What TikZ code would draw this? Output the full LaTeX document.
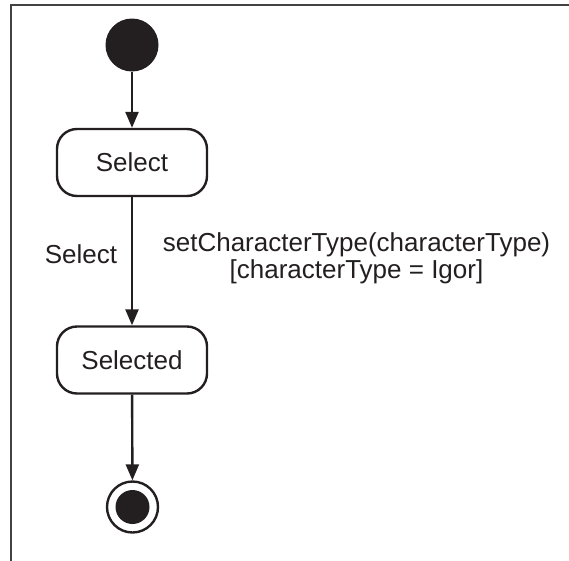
\documentclass[tikz,border=0pt]{standalone}
\usepackage{fontspec}
\setmainfont{Liberation Sans}
\usetikzlibrary{arrows.meta}
\definecolor{ink}{HTML}{231F20}
\tikzset{
  statebox/.style={draw=ink, line width=2.4pt, rounded corners=20pt, minimum width=150pt, minimum height=67pt, font=\fontsize{26}{30}\selectfont, text=ink},
  conn/.style={draw=ink, line width=2.4pt, -{Triangle[length=16pt,width=13pt]}},
  lbl/.style={font=\fontsize{26}{30}\selectfont, text=ink, anchor=base, inner sep=0pt}
}
\begin{document}
\begin{tikzpicture}[x=1pt,y=-1pt]
\useasboundingbox (0,0) rectangle (569,560);
\draw[line width=2pt, draw=ink!85] (11,570) -- (11,5) -- (580,5);
\node[circle, fill=ink, minimum size=53pt, inner sep=0pt] (init) at (132,45) {};
\node[statebox] (sel) at (132,162.5) {Select};
\node[statebox] (sed) at (132,360) {Selected};
\node[circle, draw=ink, line width=2.4pt, minimum size=51pt, inner sep=0pt] (fin) at (132.5,507) {};
\node[circle, fill=ink, minimum size=34pt, inner sep=0pt] (finin) at (fin.center) {};
\draw[conn] (init) -- (sel);
\draw[conn] (sel) -- (sed);
\draw[conn] (sed) -- (fin);
\node[lbl] (lab1) at (81,263) {Select};
\node[lbl] (lab2) at (356.5,251) {setCharacterType(characterType)};
\node[lbl] (lab3) at (356.5,278) {[characterType = Igor]};
\end{tikzpicture}
\end{document}
